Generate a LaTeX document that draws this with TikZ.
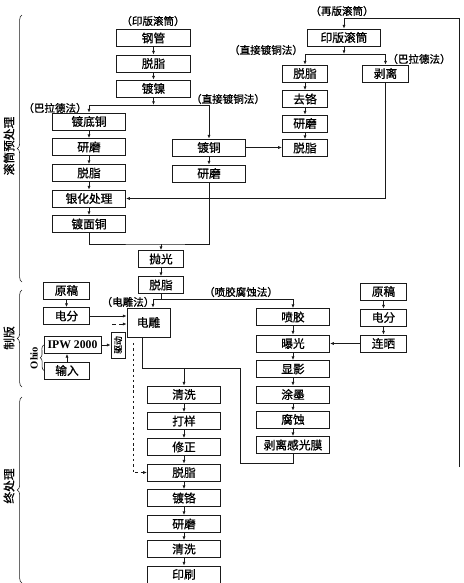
\documentclass[tikz,border=0pt]{standalone}
\usepackage{fontspec}
\setmainfont{Liberation Serif}
\newfontfamily\cjk[FakeBold=1]{Noto Sans CJK SC}
\usepackage{tikz}
\usepackage{xcolor}
\usetikzlibrary{arrows.meta,calc,decorations.pathreplacing}
\definecolor{ink}{HTML}{1A1A1A}

\begin{document}
\begin{tikzpicture}[x=0.03cm,y=-0.03cm,
    box/.style={draw=ink,line width=0.6pt,minimum height=0.51cm,inner sep=0pt,
                font=\fontsize{10}{11}\selectfont\cjk},
    wide/.style={minimum width=2.2cm},
    slim/.style={minimum width=1.36cm},
    lbl/.style={inner sep=0pt,font=\fontsize{9}{10}\selectfont\cjk},
    sec/.style={inner sep=0pt,rotate=90,font=\fontsize{10}{11}\selectfont\cjk},
    ln/.style={draw=ink,line width=0.6pt},
    arr/.style={draw=ink,line width=0.6pt,-{Latex[length=3.2pt,width=2.6pt]}},
    grp/.style={draw=ink,line width=0.5pt,decorate,decoration={brace,amplitude=4pt}}]
  \useasboundingbox (0,0) rectangle (463,583);

  % left side groups
  \draw[grp] (22,282) -- (22,15);
  \draw[grp] (22,387) -- (22,290);
  \draw[grp] (22,583) -- (22,397);
  \node[sec] (sec1) at (9,146) {滚筒预处理};
  \node[sec] (sec2) at (9,338) {制版};
  \node[sec] (sec3) at (9,486) {终处理};

  % new cylinder
  \node[lbl] (lyb) at (153,21) {（印版滚筒）};
  \node[box,wide] (gg)  at (153.5,38)   {钢管};
  \node[box,wide] (tz1) at (153.5,63.5) {脱脂};
  \node[box,wide] (dn)  at (153.5,88.5) {镀镍};

  \node[lbl] (lbl1) at (55,108) {（巴拉德法）};
  \node[lbl] (lzj1) at (228,99) {（直接镀铜法）};

  \node[box,wide] (ddt) at (89,121.5) {镀底铜};
  \node[box,wide] (ym1) at (89,147)   {研磨};
  \node[box,wide] (tz2) at (89,173)   {脱脂};
  \node[box,wide] (yh)  at (89,198.5) {银化处理};
  \node[box,wide] (dmt) at (89,224)   {镀面铜};

  \node[box,wide] (dt)  at (209,147.5) {镀铜};
  \node[box,wide] (ym2) at (209,173.5) {研磨};

  % re-used cylinder
  \node[lbl] (lzb) at (342,11) {（再版滚筒）};
  \node[box,wide] (ybgt) at (344,37.5) {印版滚筒};
  \node[lbl] (lzj2) at (266,50) {（直接镀铜法）};
  \node[lbl] (lbl2) at (419,59) {（巴拉德法）};

  \node[box,slim] (tz3) at (305,73.5) {脱脂};
  \node[box,slim] (qg)  at (305,99)   {去铬};
  \node[box,slim] (ym3) at (305,123.5) {研磨};
  \node[box,slim] (tz4) at (305,148)  {脱脂};
  \node[box,slim] (bl)  at (385.5,73.5) {剥离};

  \node[box,slim] (pg)  at (161,259) {抛光};
  \node[box,slim] (tz5) at (161,285) {脱脂};

  % plate making
  \node[lbl] (ldd) at (128,302) {（电雕法）};
  \node[lbl] (lpj) at (241,292) {（喷胶腐蚀法）};
  \node[box,minimum width=1.29cm,minimum height=0.87cm] (dd) at (148.5,322.5) {电雕};

  \node[box,slim] (yg1) at (66.5,290.5) {原稿};
  \node[box,slim] (df1) at (66.5,316)   {电分};
  \node[box,minimum width=1.71cm,font=\fontsize{10}{11}\selectfont\rmfamily\bfseries] (ipw) at (72.5,345) {IPW 2000};
  \node[box,slim] (sr)  at (67,370.5)   {输入};
  \node[box,minimum width=0.42cm,minimum height=0.78cm] (qd) at (118,345) {};
  \node[inner sep=0pt,rotate=90,font=\fontsize{7.5}{8}\selectfont\cjk] (qdt) at (qd) {驱动};
  \node[inner sep=0pt,rotate=90,font=\fontsize{9}{10}\selectfont\bfseries] (ohio) at (34,358) {Ohio};

  \node[box,wide] (pj)  at (293,317)   {喷胶};
  \node[box,wide] (bg)  at (293,343.5) {曝光};
  \node[box,wide] (xy)  at (293,369)   {显影};
  \node[box,wide] (tm)  at (293,394.5) {涂墨};
  \node[box,wide] (fs)  at (293,419.5) {腐蚀};
  \node[box,wide] (blg) at (293,445)   {剥离感光膜};

  \node[box,slim] (yg2) at (383.5,291.5) {原稿};
  \node[box,slim] (df2) at (383.5,317.5) {电分};
  \node[box,slim] (ls)  at (383.5,343.5) {连晒};

  % finishing
  \node[box,wide] (qx1) at (184,394.5) {清洗};
  \node[box,wide] (dy)  at (184,421)   {打样};
  \node[box,wide] (xz)  at (184,447)   {修正};
  \node[box,wide] (tz6) at (184,472.5) {脱脂};
  \node[box,wide] (dg)  at (184,498)   {镀铬};
  \node[box,wide] (ym4) at (184,524)   {研磨};
  \node[box,wide] (qx2) at (184,549)   {清洗};
  \node[box,wide] (ys)  at (184,574.5) {印刷};

  \coordinate (j1) at (153.5,105);
  \coordinate (j2) at (344,54);
  \coordinate (j4) at (161,244);
  \coordinate (j5) at (153,299);
  \coordinate (j6) at (240,368);
  \coordinate (j7) at (240,463);
  \coordinate (j8) at (184,368);
  \coordinate (rend) at (459,467);
  \coordinate (rtop) at (459,18);
  \coordinate (dtop) at (133,343);
  \coordinate (dsh) at (112,324);

  \foreach \a/\b in {gg/tz1,tz1/dn,ddt/ym1,ym1/tz2,tz2/yh,yh/dmt,dt/ym2,
                     tz3/qg,qg/ym3,ym3/tz4,pg/tz5,yg1/df1,
                     pj/bg,bg/xy,xy/tm,tm/fs,fs/blg,yg2/df2,df2/ls,
                     qx1/dy,dy/xz,xz/tz6,tz6/dg,dg/ym4,ym4/qx2,qx2/ys}
    \draw[arr] (\a) -- (\b);

  \draw[arr] (dn.south) -- (j1);
  \draw[arr] (j1) -| (ddt.north);
  \draw[arr] (j1) -| (dt.north);
  \draw[arr] (ybgt.south) -- (j2);
  \draw[arr] (j2) -| (tz3.north);
  \draw[arr] (j2) -| (bl.north);
  \draw[arr] (rend) -- (rtop) -| (ybgt.north);
  \draw[arr] (dt.east) -- (dt.east -| tz4.west);
  \draw[arr] (bl.south) |- (yh.east);
  \draw[ln] (dmt.south) |- (j4) -| (ym2.south);
  \draw[arr] (j4) -- (pg.north);

  \draw[ln] (tz5.south) -- (tz5.south |- j5);
  \draw[arr] (j5) -- (j5 |- dd.north);
  \draw[arr] (j5) -| (pj.north);
  \draw[arr] (df1.east) -- (df1.east -| dd.west);
  \draw[arr,dashed] (dsh) -- (dsh -| dd.west);
  \draw[arr] (ipw.east) -- (ipw.east -| qd.west);
  \draw[arr] (sr.north) -- (sr.north |- ipw.south);
  \draw[grp,decoration={brace,amplitude=3pt}] (sr.west) -- (ipw.west);
  \draw[arr] (ls.west) -- (bg.east);

  \draw[ln] ($(dd.south)+(-6.5,0)$) |- (j6);
  \draw[ln] (blg.south) |- (j7) -- (j6);
  \draw[arr] (j8) -- (qx1.north);
  \draw[arr,dash pattern=on 2pt off 2.5pt] (dtop) |- (tz6.west);
\end{tikzpicture}
\end{document}
